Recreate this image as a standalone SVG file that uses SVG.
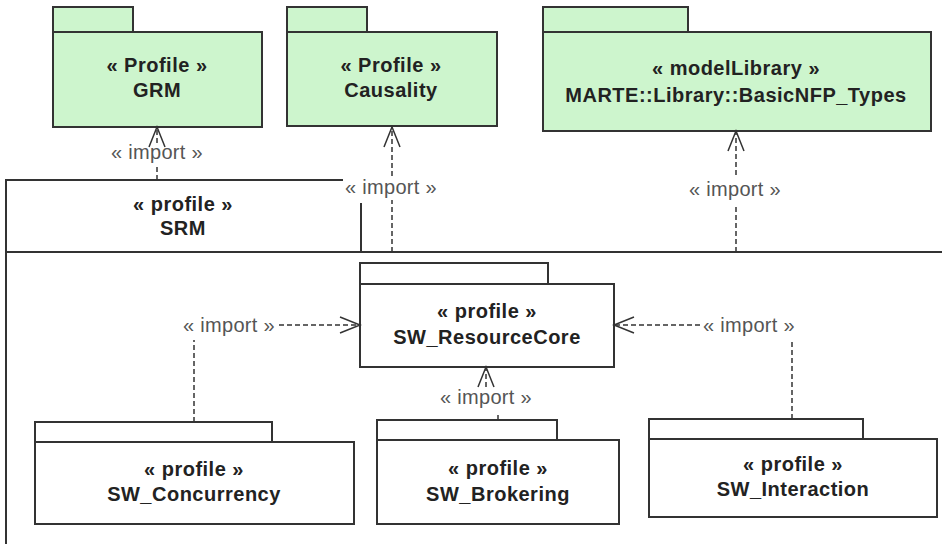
<svg xmlns="http://www.w3.org/2000/svg" width="942" height="544" viewBox="0 0 942 544">
<style>
.pkg{fill:#ffffff;stroke:#333333;stroke-width:2}
.green{fill:#cdf5cd}
.outer{fill:none;stroke:#333333;stroke-width:2}
.name{font-family:"Liberation Sans",Arial,sans-serif;font-weight:bold;font-size:20px;letter-spacing:0.5px;fill:#222222;text-anchor:middle}
.lbl{font-family:"Liberation Sans",Arial,sans-serif;font-size:20px;letter-spacing:0.3px;fill:#555555}
.dep{fill:none;stroke:#333333;stroke-width:1.5;stroke-dasharray:5,3}
</style>
<defs>
<marker id="open" markerUnits="userSpaceOnUse" markerWidth="24" markerHeight="20" viewBox="0 0 24 20" refX="22" refY="10" orient="auto">
<path d="M2,2 L22,10 L2,18" fill="none" stroke="#333333" stroke-width="1.5"/>
</marker>
</defs>
<rect width="942" height="544" fill="#ffffff"/>

<g id="SRM">
<path class="outer" d="M343,180 H6 V546"/>
<path class="outer" d="M6,252 H944"/>
<path class="outer" d="M361,203 V252"/>
<text class="name" x="183" y="211">« profile »</text>
<text class="name" x="183" y="235">SRM</text>
</g>

<g id="GRM">
<rect class="pkg green" x="53" y="7" width="80" height="25"/>
<rect class="pkg green" x="53" y="32" width="209" height="95"/>
<text class="name" x="157" y="72">« Profile »</text>
<text class="name" x="157" y="97">GRM</text>
</g>

<g id="Causality">
<rect class="pkg green" x="287" y="7" width="80" height="25"/>
<rect class="pkg green" x="287" y="32" width="210" height="94"/>
<text class="name" x="391" y="72">« Profile »</text>
<text class="name" x="391" y="97">Causality</text>
</g>

<g id="BasicNFP_Types">
<rect class="pkg green" x="543" y="7" width="145" height="25"/>
<rect class="pkg green" x="543" y="32" width="388" height="99"/>
<text class="name" x="736" y="75">« modelLibrary »</text>
<text class="name" x="736" y="102">MARTE::Library::BasicNFP_Types</text>
</g>

<g id="SW_ResourceCore">
<rect class="pkg" x="360" y="263" width="188" height="21"/>
<rect class="pkg" x="360" y="284" width="254" height="83"/>
<text class="name" x="487" y="318">« profile »</text>
<text class="name" x="487" y="344">SW_ResourceCore</text>
</g>

<g id="SW_Concurrency">
<rect class="pkg" x="35" y="422" width="237" height="20"/>
<rect class="pkg" x="35" y="442" width="319" height="82"/>
<text class="name" x="194" y="476">« profile »</text>
<text class="name" x="194" y="501">SW_Concurrency</text>
</g>

<g id="SW_Brokering">
<rect class="pkg" x="377" y="420" width="180" height="20"/>
<rect class="pkg" x="377" y="440" width="242" height="84"/>
<text class="name" x="498" y="475">« profile »</text>
<text class="name" x="498" y="501">SW_Brokering</text>
</g>

<g id="SW_Interaction">
<rect class="pkg" x="649" y="419" width="214" height="20"/>
<rect class="pkg" x="649" y="439" width="288" height="78"/>
<text class="name" x="793" y="471">« profile »</text>
<text class="name" x="793" y="496">SW_Interaction</text>
</g>

<g id="connectors">
<path class="dep" d="M157,180 V165"/>
<path class="dep" d="M157,143 V127" marker-end="url(#open)"/>
<text class="lbl" x="157" y="159" text-anchor="middle">« import »</text>

<path class="dep" d="M392,252 V200"/>
<path class="dep" d="M392,176 V127" marker-end="url(#open)"/>
<text class="lbl" x="391" y="194" text-anchor="middle">« import »</text>

<path class="dep" d="M736,252 V205"/>
<path class="dep" d="M736,175 V131" marker-end="url(#open)"/>
<text class="lbl" x="735" y="196" text-anchor="middle">« import »</text>

<path class="dep" d="M194,422 V340"/>
<path class="dep" d="M279,325 H360" marker-end="url(#open)"/>
<text class="lbl" x="229" y="332" text-anchor="middle">« import »</text>

<path class="dep" d="M792,419 V340"/>
<path class="dep" d="M700,325 H614" marker-end="url(#open)"/>
<text class="lbl" x="749" y="332" text-anchor="middle">« import »</text>

<path class="dep" d="M498,420 V413"/>
<path class="dep" d="M486,387 V367" marker-end="url(#open)"/>
<text class="lbl" x="486" y="404" text-anchor="middle">« import »</text>
</g>
</svg>
